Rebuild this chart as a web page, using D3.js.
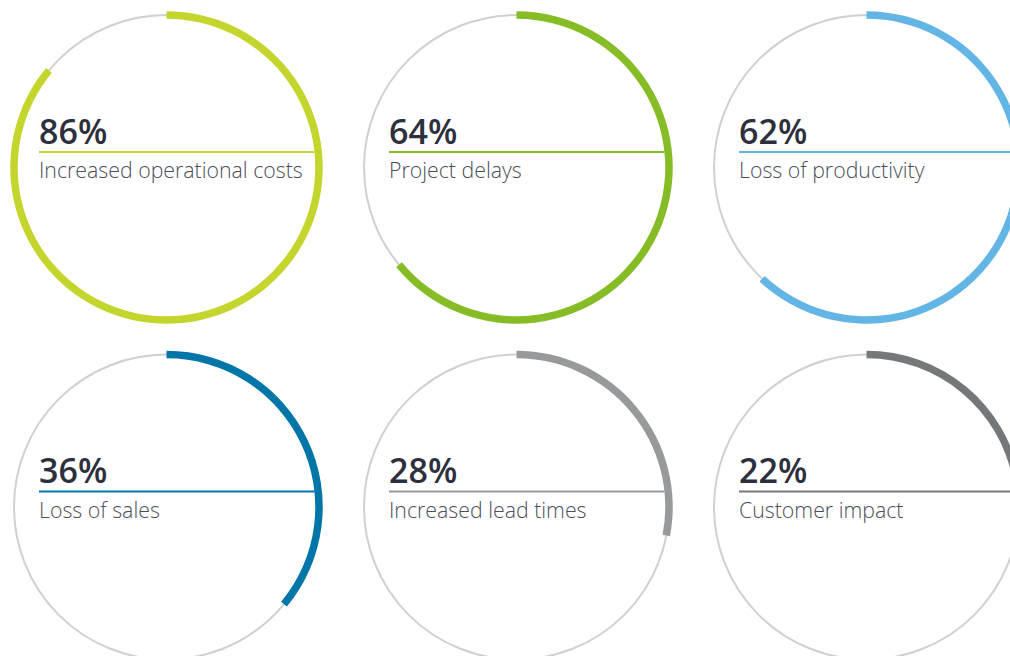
<!DOCTYPE html>
<html>
<head>
<meta charset="utf-8">
<script src="https://cdn.jsdelivr.net/npm/d3@7"></script>
<style>
  body { margin: 0; background: #fff; }
  svg { display: block; }
</style>
</head>
<body>
<div id="chart"></div>
<script>
// data
const labels = ['Increased operational costs', 'Project delays', 'Loss of productivity',
                'Loss of sales', 'Increased lead times', 'Customer impact'];
const values = [86, 64, 62, 36, 28, 22];
const colors = ['#c4d62e', '#86bc25', '#62b5e5', '#0076a8', '#97999b', '#75787b'];

const width = 1010;
const height = 656;
const radius = 152.5;
const ringWidth = 7.5;

const svg = d3.select('#chart')
    .append('svg')
    .attr('width', width)
    .attr('height', height);

// grid positions
const col = d3.scalePoint().domain([0, 1, 2]).range([166.5, 866.5]);
const row = d3.scalePoint().domain([0, 1]).range([167.5, 507]);

// value -> angle
const angle = d3.scaleLinear().domain([0, 100]).range([0, 2 * Math.PI]);

const arc = d3.arc()
    .innerRadius(radius - ringWidth / 2)
    .outerRadius(radius + ringWidth / 2)
    .startAngle(0)
    .endAngle(d => angle(d));

const cells = svg.selectAll('.cell')
    .data(values)
    .enter().append('g')
    .attr('class', 'cell')
    .attr('transform', (d, i) => `translate(${col(i % 3)},${row(Math.floor(i / 3))})`);

// grey background ring
cells.append('circle')
    .attr('r', radius)
    .style('fill', 'none')
    .style('stroke', '#d0d0d0')
    .style('stroke-width', 2);

// value arc
cells.append('path')
    .attr('d', d => arc(d))
    .style('fill', (d, i) => colors[i]);

// divider line
const lineY = -15.5;
const lineX0 = -127.5;
const innerR = radius - ringWidth / 2;
cells.append('line')
    .attr('x1', lineX0)
    .attr('x2', Math.sqrt(innerR * innerR - lineY * lineY))
    .attr('y1', lineY)
    .attr('y2', lineY)
    .style('stroke', (d, i) => colors[i])
    .style('stroke-width', 2);

// percent
cells.append('text')
    .attr('x', lineX0)
    .attr('y', -24)
    .style('font-family', '"Open Sans", sans-serif')
    .style('font-weight', 600)
    .style('font-size', '34px')
    .style('fill', '#2d303c')
    .text(d => d + '%');

// label
cells.append('text')
    .attr('x', lineX0)
    .attr('y', 10.5)
    .style('font-family', '"Open Sans", sans-serif')
    .style('font-weight', 300)
    .style('font-size', '21.3px')
    .style('fill', '#4b4e58')
    .text((d, i) => labels[i]);
</script>
</body>
</html>
